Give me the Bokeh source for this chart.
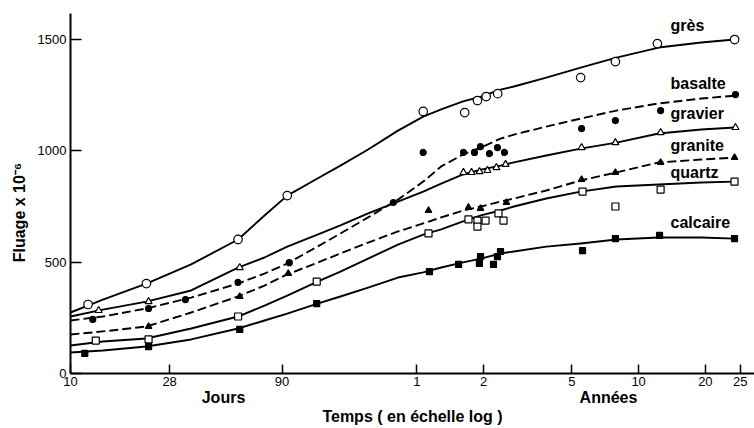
from bokeh.embed import file_html
from bokeh.models import FixedTicker, Label, LinearAxis, LogAxis, Range1d
from bokeh.plotting import figure
from bokeh.resources import INLINE

# Time axis (days, log scale): days then years
TICK_DAYS = [10, 28, 90, 365, 730, 1826, 3652, 7305, 10500]
TICK_LABELS = ["10", "28", "90", "1", "2", "5", "10", "20", "25"]
Y_TICKS = [0, 500, 1000, 1500]

# Fitted creep curves, sampled at these ages (days)
CURVE_DAYS = [10, 14, 22, 35, 57, 75, 95, 130, 165, 220, 300, 390, 470,
              590, 710, 870, 1000, 1400, 2000, 2900, 4500, 7000, 9900]
GRES_CURVE = [274, 332, 404, 490, 602, 710, 799, 876, 934, 1006, 1091, 1154, 1186,
              1222, 1244, 1275, 1289, 1329, 1374, 1419, 1464, 1487, 1500]
BASALTE_CURVE = [238, 256, 292, 341, 404, 449, 494, 570, 629, 701, 781, 862, 930,
                 984, 1015, 1055, 1073, 1109, 1145, 1181, 1213, 1235, 1248]
GRAVIER_CURVE = [256, 287, 323, 373, 476, 521, 570, 624, 665, 719, 772, 817, 853,
                 894, 916, 934, 948, 979, 1010, 1037, 1078, 1096, 1105]
GRANITE_CURVE = [175, 189, 211, 274, 346, 395, 445, 498, 539, 588, 638, 674, 701,
                 732, 750, 772, 786, 822, 867, 903, 948, 961, 970]
QUARTZ_CURVE = [126, 144, 157, 202, 256, 305, 350, 413, 458, 516, 579, 624, 647,
                683, 710, 732, 750, 786, 817, 840, 849, 858, 862]
CALCAIRE_CURVE = [94, 103, 121, 153, 202, 238, 269, 314, 346, 386, 431, 454, 476,
                  499, 516, 539, 548, 570, 584, 602, 611, 611, 606]

# Measured creep (x 10^-6) per aggregate
GRES_DAYS = [12, 22, 57, 95, 390, 600, 685, 750, 845, 2000, 2870, 4440, 9900]
GRES_VALS = [310, 404, 602, 799, 1177, 1172, 1226, 1244, 1257, 1329, 1401, 1482, 1500]

BASALTE_DAYS = [12.6, 22.5, 33, 57, 97, 286, 390, 593, 664, 707, 776, 843, 907,
                2020, 2870, 4590, 9990]
BASALTE_VALS = [243, 292, 332, 409, 498, 768, 993, 993, 993, 1019, 988, 1015, 993,
                1100, 1136, 1181, 1253]

GRAVIER_DAYS = [13.4, 22.5, 58, 592, 644, 700, 760, 834, 917, 2020, 2870, 4590, 9990]
GRAVIER_VALS = [283, 323, 476, 903, 903, 907, 912, 925, 939, 1015, 1037, 1082, 1105]

GRANITE_DAYS = [22.5, 58, 96, 412, 624, 707, 926, 2020, 2870, 4590, 9890]
GRANITE_VALS = [211, 346, 449, 732, 746, 741, 768, 871, 903, 948, 970]

QUARTZ_DAYS = [13, 22.5, 57, 129, 412, 624, 685, 685, 745, 852, 898, 2040, 2870, 4590, 9890]
QUARTZ_VALS = [148, 153, 256, 413, 629, 692, 687, 660, 687, 719, 687, 817, 750, 826, 862]

CALCAIRE_DAYS = [11.6, 22.5, 58, 129, 416, 563, 699, 707, 809, 843, 870, 2040, 2870, 4540, 9890]
CALCAIRE_VALS = [90, 121, 198, 314, 458, 490, 494, 525, 490, 525, 548, 552, 606, 620, 606]

# Period captions under the time axis
PERIOD_DAYS = [49, 2671]
PERIOD_LABELS = ["Jours", "Années"]

FONT = "Liberation Sans"

p = figure(width=754, height=428, x_axis_type="log",
           x_range=Range1d(10, 12170), y_range=Range1d(0, 1617),
           output_backend="svg", toolbar_location=None,
           min_border_left=70, min_border_right=0,
           min_border_top=13, min_border_bottom=55)
p.outline_line_color = None
p.background_fill_color = "white"
p.border_fill_color = "white"
p.xgrid.visible = False
p.ygrid.visible = False

for ax in (p.xaxis, p.yaxis):
    ax.axis_line_width = 2
    ax.axis_line_color = "black"
    ax.major_tick_line_width = 1.5
    ax.major_tick_out = 0
    ax.minor_tick_line_color = None
    ax.major_label_text_font = FONT
    ax.major_label_text_font_size = "13px"
    ax.major_label_text_color = "black"
    ax.major_label_standoff = 4

p.xaxis.ticker = FixedTicker(ticks=TICK_DAYS)
p.xaxis.major_label_overrides = {d: lab for d, lab in zip(TICK_DAYS, TICK_LABELS)}
p.xaxis.major_tick_in = 9
p.xaxis.major_label_standoff = 3
p.yaxis.ticker = FixedTicker(ticks=Y_TICKS)
p.yaxis.major_tick_in = 11


def caption_axis(axis):
    axis.axis_line_color = None
    axis.major_tick_line_color = None
    axis.minor_tick_line_color = None
    axis.major_label_text_font = FONT
    axis.major_label_text_font_size = "16px"
    axis.major_label_text_font_style = "bold"
    axis.major_label_text_color = "black"
    axis.axis_label_text_font = FONT
    axis.axis_label_text_font_size = "16px"
    axis.axis_label_text_font_style = "bold"
    axis.axis_label_text_color = "black"
    return axis


# "Jours" / "Années" captions and the time-axis title
period_axis = caption_axis(LogAxis(ticker=FixedTicker(ticks=PERIOD_DAYS)))
period_axis.major_label_overrides = {d: lab for d, lab in zip(PERIOD_DAYS, PERIOD_LABELS)}
period_axis.major_label_standoff = -6
period_axis.axis_label = "Temps ( en échelle log )"
period_axis.axis_label_standoff = -1
p.add_layout(period_axis, "below")

# Vertical creep title, centred on its own position along the value axis
TITLE_Y = 723
title_axis = caption_axis(LinearAxis(ticker=FixedTicker(ticks=[TITLE_Y])))
title_axis.major_label_overrides = {TITLE_Y: "Fluage x 10⁻⁶"}
title_axis.major_label_orientation = "vertical"
title_axis.major_label_standoff = 0
p.add_layout(title_axis, "left")

LINE_W = 1.9
DASH = "9 4"

series = [
    (GRES_CURVE, "solid", GRES_DAYS, GRES_VALS, "circle", 8.5, "white"),
    (GRAVIER_CURVE, "solid", GRAVIER_DAYS, GRAVIER_VALS, "triangle", 7, "white"),
    (BASALTE_CURVE, DASH, BASALTE_DAYS, BASALTE_VALS, "circle", 6, "black"),
    (GRANITE_CURVE, DASH, GRANITE_DAYS, GRANITE_VALS, "triangle", 6.5, "black"),
    (QUARTZ_CURVE, "solid", QUARTZ_DAYS, QUARTZ_VALS, "square", 7, "white"),
    (CALCAIRE_CURVE, "solid", CALCAIRE_DAYS, CALCAIRE_VALS, "square", 6, "black"),
]

for curve, dash, *_ in series:
    p.line(CURVE_DAYS, curve, line_color="black", line_width=LINE_W, line_dash=dash,
           line_join="round")

for _, _, xs, ys, marker, size, fill in series:
    p.scatter(xs, ys, marker=marker, size=size, fill_color=fill,
              line_color="black", line_width=1.2)

# Curve names at the right end
NAME_X = 5090
names = [("grès", 1563), ("basalte", 1302), ("gravier", 1168),
         ("granite", 1024), ("quartz", 903), ("calcaire", 678)]
for txt, yv in names:
    p.add_layout(Label(x=NAME_X, y=yv, text=txt, text_font=FONT,
                       text_font_size="16px", text_font_style="bold",
                       text_align="left", text_baseline="middle",
                       text_color="black"))

open("out.html", "w").write(file_html(p, INLINE))
